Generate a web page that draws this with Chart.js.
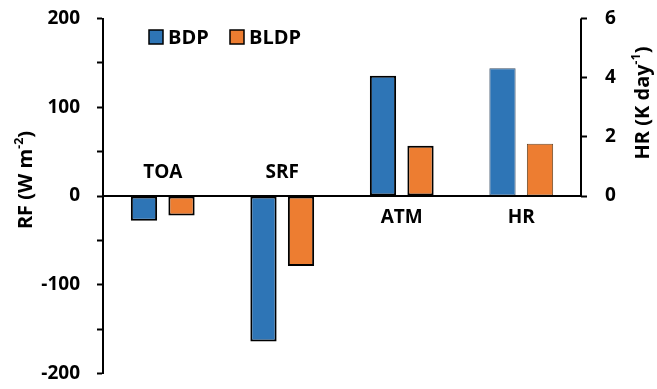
<!DOCTYPE html>
<html>
<head>
<meta charset="utf-8">
<script src="https://cdn.jsdelivr.net/npm/chart.js@4"></script>
<style>
  body { margin: 0; background: #fff; }
  #wrap { width: 657px; height: 389px; position: relative; }
</style>
</head>
<body>
<div id="wrap"><canvas id="grafico"></canvas></div>
<script>
// dados
const categories = ['TOA', 'SRF', 'ATM', 'HR'];
const bdpRF = [-28, -164, 135.5];   // W m-2 (TOA, SRF, ATM)
const bldpRF = [-22, -79, 56.5];
const bdpHR = [4.32];               // K day-1 (HR)
const bldpHR = [1.77];
const rfTicks = [-200, -100, 0, 100, 200];
const hrTicks = [0, 2, 4, 6];

const BLUE = '#2E75B6';
const ORANGE = '#ED7D31';
const FONT = "'Open Sans', sans-serif";

Chart.defaults.font.family = FONT;
Chart.defaults.font.weight = 'bold';
Chart.defaults.color = '#000';

// RF datasets ficam no eixo esquerdo, HR no eixo direito
const nulls = n => Array(n).fill(null);
const rfPad = nulls(categories.length - bdpRF.length);
const hrPad = nulls(categories.length - bdpHR.length);

// texto com expoente (rotacionado)
function richTitle(ctx, parts, cx, cy, size) {
  ctx.save();
  ctx.translate(cx, cy);
  ctx.rotate(-Math.PI / 2);
  ctx.textBaseline = 'alphabetic';
  ctx.fillStyle = '#000';
  let total = 0;
  parts.forEach(p => {
    ctx.font = `bold ${p.sup ? size * 0.62 : size}px ${FONT}`;
    p.w = ctx.measureText(p.t).width;
    total += p.w;
  });
  let x = -total / 2;
  parts.forEach(p => {
    ctx.font = `bold ${p.sup ? size * 0.62 : size}px ${FONT}`;
    ctx.fillText(p.t, x, p.sup ? size * 0.35 - size * 0.45 : size * 0.35);
    x += p.w;
  });
  ctx.restore();
}

const extras = {
  id: 'extras',
  afterDatasetsDraw(chart) {
    const { ctx, chartArea, scales } = chart;
    const xs = scales.x, y = scales.y, y1 = scales.y1;
    const zero = y.getPixelForValue(0);

    ctx.save();
    ctx.strokeStyle = '#000';
    ctx.lineWidth = 2;
    ctx.beginPath();
    // linha do zero por cima das barras
    ctx.moveTo(chartArea.left, zero);
    ctx.lineTo(chartArea.right, zero);
    // linha do eixo direito (so de 0 a 6)
    ctx.moveTo(chartArea.right, y1.getPixelForValue(hrTicks[0]));
    ctx.lineTo(chartArea.right, y1.getPixelForValue(hrTicks[hrTicks.length - 1]));
    ctx.stroke();

    // rotulos das categorias, do lado oposto das barras
    ctx.font = `bold 19px ${FONT}`;
    ctx.textAlign = 'center';
    ctx.textBaseline = 'middle';
    ctx.fillStyle = '#000';
    categories.forEach((c, i) => {
      const v = i < bdpRF.length ? bdpRF[i] : bdpHR[i - bdpRF.length];
      const px = xs.getPixelForValue(i);
      ctx.fillText(c, px, v < 0 ? zero - 23 : zero + 22);
    });

    // legenda
    const items = [
      { label: chart.data.datasets[0].label, color: BLUE, x: 149 },
      { label: chart.data.datasets[1].label, color: ORANGE, x: 230 }
    ];
    ctx.textAlign = 'left';
    ctx.font = `bold 20px ${FONT}`;
    items.forEach(it => {
      ctx.fillStyle = it.color;
      ctx.fillRect(it.x, 30, 14, 14);
      ctx.strokeStyle = '#000';
      ctx.lineWidth = 1.5;
      ctx.strokeRect(it.x, 30, 14, 14);
      ctx.fillStyle = '#000';
      ctx.fillText(it.label, it.x + 19, 38);
    });
    ctx.restore();

    // titulos dos eixos
    richTitle(ctx, [{ t: 'RF (W m' }, { t: '-2', sup: true }, { t: ')' }], 25, 180, 20);
    richTitle(ctx, [{ t: 'HR (K day' }, { t: '-1', sup: true }, { t: ')' }], 642, 103, 20);
  }
};

// remove o espaco extra que o chart.js reserva para os rotulos
const noPad = s => { s.paddingTop = 0; s.paddingBottom = 0; };

const ctx = document.getElementById('grafico');
new Chart(ctx, {
  type: 'bar',
  data: {
    labels: categories,
    datasets: [
      { label: 'BDP', data: [...bdpRF, ...rfPad], yAxisID: 'y', backgroundColor: BLUE, borderColor: '#000', borderWidth: 2 },
      { label: 'BLDP', data: [...bldpRF, ...rfPad], yAxisID: 'y', backgroundColor: ORANGE, borderColor: '#000', borderWidth: 2 },
      { label: 'BDP', data: [...hrPad, ...bdpHR], yAxisID: 'y1', backgroundColor: BLUE, borderColor: '#3b4f66', borderWidth: 1 },
      { label: 'BLDP', data: [...hrPad, ...bldpHR], yAxisID: 'y1', backgroundColor: ORANGE, borderColor: '#6b4a2a', borderWidth: 1 }
    ]
  },
  options: {
    responsive: true,
    maintainAspectRatio: false,
    animation: false,
    layout: { padding: { top: 18.5, bottom: 15.5, left: 0, right: 0 } },
    datasets: {
      bar: {
        skipNull: true,
        borderSkipped: false,
        categoryPercentage: 0.628,
        barPercentage: 0.70
      }
    },
    scales: {
      x: { display: false },
      y: {
        position: 'left',
        min: -200,
        max: 200,
        afterFit: s => { s.width = 103; noPad(s); },
        ticks: {
          stepSize: 50,
          padding: 17,
          font: { size: 19, weight: 'bold' },
          color: '#000',
          callback: v => rfTicks.includes(v) ? v : ''
        },
        grid: {
          drawOnChartArea: false,
          tickColor: '#000',
          tickWidth: 2,
          tickLength: 6
        },
        border: { display: true, color: '#000', width: 2 }
      },
      y1: {
        position: 'right',
        min: -6,
        max: 6,
        afterFit: s => { s.width = 76; noPad(s); },
        ticks: {
          stepSize: 2,
          padding: 18,
          font: { size: 19, weight: 'bold' },
          color: '#000',
          callback: v => hrTicks.includes(v) ? v : ''
        },
        grid: {
          drawOnChartArea: false,
          tickColor: c => c.tick && c.tick.value >= 0 ? '#000' : 'rgba(0,0,0,0)',
          tickWidth: 2,
          tickLength: 6
        },
        border: { display: false }
      }
    },
    plugins: {
      legend: { display: false },
      title: { display: false },
      tooltip: { enabled: false }
    }
  },
  plugins: [extras]
});
</script>
</body>
</html>
